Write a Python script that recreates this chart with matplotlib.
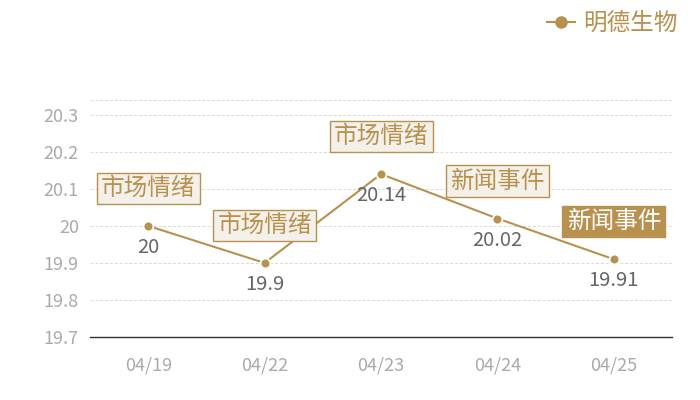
import matplotlib
matplotlib.use("Agg")
import matplotlib.pyplot as plt

plt.rcParams['font.family'] = ['Noto Sans CJK SC', 'DejaVu Sans']

# 数据
dates = ["04/19", "04/22", "04/23", "04/24", "04/25"]
values = [20.0, 19.9, 20.14, 20.02, 19.91]
value_labels = ["20", "19.9", "20.14", "20.02", "19.91"]
events = ["市场情绪", "市场情绪", "市场情绪", "新闻事件", "新闻事件"]
highlight = [False, False, False, False, True]
series_name = "明德生物"

gold = "#b8914f"
box_fill = "#f4f0ea"

fig = plt.figure(figsize=(7, 4), dpi=100)
ax = fig.add_axes([90 / 700, 1 - 337 / 400, (672 - 90) / 700, (337 - 100) / 400])

x = list(range(len(dates)))
ax.plot(x, values, color=gold, linewidth=1.5, marker="o", markersize=7,
        markerfacecolor=gold, markeredgecolor="white", markeredgewidth=1.2,
        label=series_name, zorder=3)

ax.set_xlim(-0.5, len(dates) - 0.5)
ax.set_ylim(19.7, 20.34)
ax.set_yticks([19.7, 19.8, 19.9, 20.0, 20.1, 20.2, 20.3])
ax.set_yticklabels(["19.7", "19.8", "19.9", "20", "20.1", "20.2", "20.3"])
ax.set_xticks(x)
ax.set_xticklabels(dates)
ax.tick_params(axis="both", length=0, labelsize=13, colors="#aaaaaa")
ax.tick_params(axis="x", pad=14)
ax.tick_params(axis="y", pad=8)

for s in ["top", "right", "left"]:
    ax.spines[s].set_visible(False)
ax.spines["bottom"].set_color("#333333")
ax.spines["bottom"].set_linewidth(1)

ax.grid(axis="y", color="#d9d9d9", linestyle=(0, (3, 2)), linewidth=0.7)
ax.axhline(20.34, color="#d9d9d9", linestyle=(0, (3, 2)), linewidth=0.7, clip_on=False)
ax.set_axisbelow(True)

for i, (v, vl, ev, hl) in enumerate(zip(values, value_labels, events, highlight)):
    ax.annotate(vl, (i, v), xytext=(0, -15.5), textcoords="offset points",
                ha="center", va="center", fontsize=14.5, color="#666666", zorder=4)
    if hl:
        bbox = dict(boxstyle="square,pad=0.18", facecolor=gold, edgecolor=gold, linewidth=1)
        tc = "white"
    else:
        bbox = dict(boxstyle="square,pad=0.18", facecolor=box_fill, edgecolor=gold, linewidth=1)
        tc = gold
    ax.annotate(ev, (i, v), xytext=(0, 27), textcoords="offset points",
                ha="center", va="center", fontsize=17, color=tc, bbox=bbox, zorder=5)

leg = fig.legend(loc="upper right", bbox_to_anchor=(0.985, 1.0), frameon=False,
                 fontsize=17, handlelength=1.2, handletextpad=0.35, borderaxespad=0.1)
for t in leg.get_texts():
    t.set_color(gold)
for h in leg.legend_handles:
    h.set_markersize(9)
    h.set_markeredgewidth(0)

fig.savefig("out.png", dpi=100)
